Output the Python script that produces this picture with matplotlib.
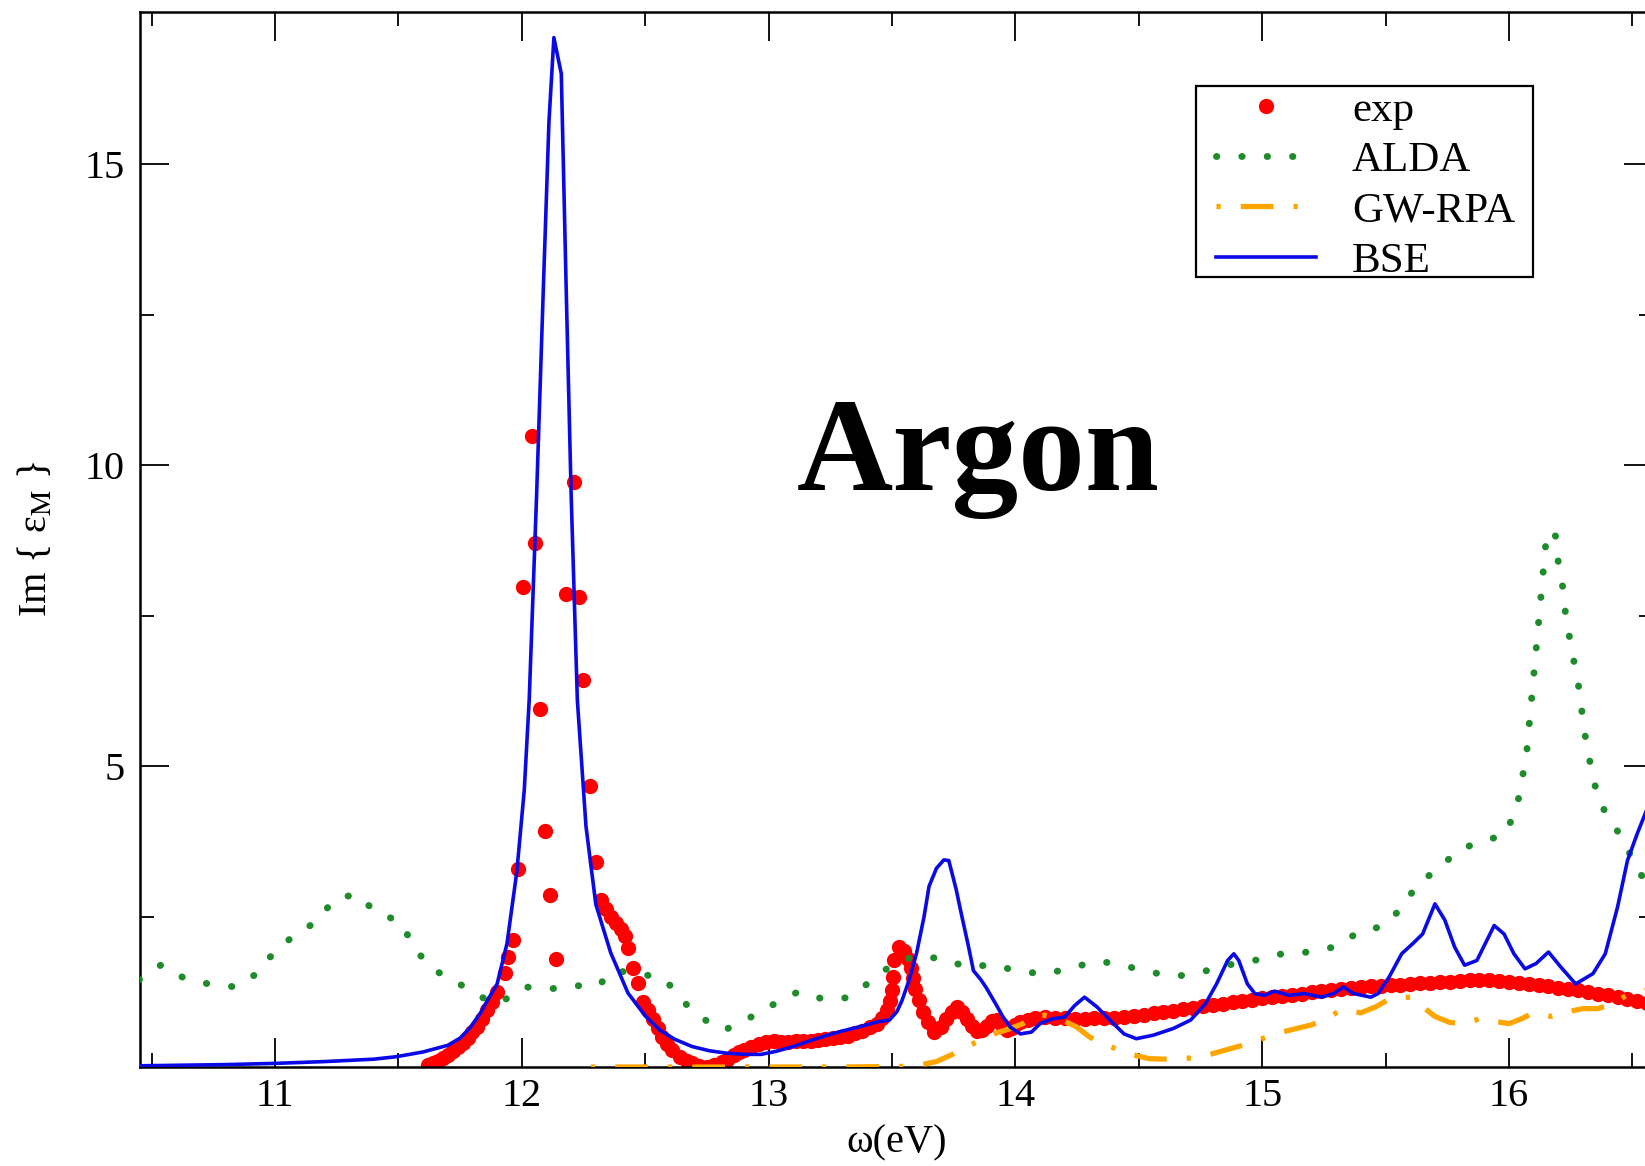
import matplotlib
matplotlib.use("Agg")
import matplotlib.pyplot as plt
from matplotlib.patches import Rectangle
from matplotlib.ticker import MultipleLocator, FixedLocator

plt.rcParams['font.family'] = ['Liberation Serif', 'DejaVu Serif']
plt.rcParams['mathtext.fontset'] = 'stix'

# ---------------- data ----------------
exp_x = [11.62, 11.64, 11.66, 11.68, 11.70, 11.72, 11.74, 11.76, 11.78, 11.80,
         11.82, 11.84, 11.86, 11.88, 11.90, 11.93, 11.945, 11.965, 11.985, 12.005,
         12.04, 12.055, 12.075, 12.095, 12.115, 12.14, 12.18, 12.21, 12.23, 12.25,
         12.275, 12.30, 12.32, 12.34, 12.36, 12.38, 12.40, 12.42, 12.43, 12.45,
         12.47, 12.49, 12.51, 12.53, 12.55, 12.57, 12.59, 12.61, 12.64, 12.67,
         12.69, 12.72, 12.75, 12.78, 12.81, 12.83, 12.86, 12.88, 12.90, 12.93,
         12.96, 12.99, 13.02, 13.05, 13.08, 13.11, 13.14, 13.17, 13.20, 13.23,
         13.26, 13.29, 13.32, 13.35, 13.38, 13.41, 13.44, 13.46, 13.48, 13.49,
         13.50, 13.505, 13.51, 13.53, 13.55, 13.565, 13.575, 13.585, 13.595, 13.61,
         13.625, 13.645, 13.67, 13.70, 13.72, 13.745, 13.765, 13.785, 13.805, 13.825,
         13.845, 13.865, 13.885, 13.905, 13.925, 13.945, 13.965, 13.985, 14.00, 14.02,
         14.05, 14.08, 14.12, 14.16, 14.20, 14.24, 14.28, 14.32, 14.36, 14.40,
         14.44, 14.48, 14.52, 14.56, 14.60, 14.64, 14.68, 14.72, 14.76, 14.80,
         14.84, 14.88, 14.92, 14.96, 15.00, 15.04, 15.08, 15.12, 15.16, 15.20,
         15.24, 15.28, 15.32, 15.36, 15.40, 15.44, 15.48, 15.52, 15.56, 15.60,
         15.64, 15.68, 15.72, 15.76, 15.80, 15.84, 15.88, 15.92, 15.96, 16.00,
         16.04, 16.08, 16.12, 16.16, 16.20, 16.24, 16.28, 16.32, 16.36, 16.40,
         16.44, 16.48, 16.52, 16.56]
exp_y = [0.03, 0.06, 0.10, 0.15, 0.20, 0.26, 0.33, 0.40, 0.49, 0.58,
         0.67, 0.80, 0.95, 1.08, 1.25, 1.56, 1.83, 2.11, 3.29, 7.97,
         10.48, 8.70, 5.95, 3.92, 2.86, 1.80, 7.86, 9.72, 7.81, 6.43,
         4.67, 3.41, 2.78, 2.62, 2.50, 2.40, 2.30, 2.18, 1.98, 1.64,
         1.40, 1.08, 0.95, 0.80, 0.64, 0.50, 0.38, 0.28, 0.17, 0.10,
         0.06, 0.02, 0.00, 0.03, 0.08, 0.12, 0.20, 0.25, 0.28, 0.33,
         0.38, 0.42, 0.43, 0.42, 0.42, 0.43, 0.44, 0.44, 0.45, 0.46,
         0.48, 0.50, 0.52, 0.56, 0.60, 0.66, 0.72, 0.82, 0.95, 1.10,
         1.28, 1.50, 1.78, 2.00, 1.92, 1.80, 1.65, 1.48, 1.30, 1.12,
         0.92, 0.74, 0.58, 0.66, 0.80, 0.92, 1.00, 0.92, 0.80, 0.68,
         0.60, 0.62, 0.68, 0.76, 0.78, 0.70, 0.62, 0.64, 0.70, 0.75,
         0.78, 0.82, 0.83, 0.82, 0.81, 0.80, 0.80, 0.81, 0.81, 0.82,
         0.83, 0.85, 0.87, 0.89, 0.91, 0.93, 0.96, 0.98, 1.01, 1.03,
         1.05, 1.08, 1.10, 1.12, 1.14, 1.16, 1.18, 1.20, 1.22, 1.24,
         1.26, 1.28, 1.29, 1.31, 1.33, 1.34, 1.35, 1.36, 1.37, 1.38,
         1.39, 1.40, 1.41, 1.42, 1.43, 1.44, 1.44, 1.44, 1.43, 1.42,
         1.40, 1.38, 1.36, 1.34, 1.32, 1.30, 1.28, 1.25, 1.22, 1.19,
         1.16, 1.13, 1.10, 1.07]

alda_x = [10.45, 10.54, 10.63, 10.73, 10.84, 10.93, 11.00, 11.08, 11.17, 11.24,
          11.33, 11.41, 11.51, 11.56, 11.63, 11.73, 11.82, 11.91, 12.01, 12.12,
          12.22, 12.31, 12.37, 12.47, 12.58, 12.65, 12.73, 12.82, 12.92, 13.02,
          13.12, 13.22, 13.32, 13.41, 13.50, 13.59, 13.71, 13.80, 13.91, 14.02,
          14.13, 14.235, 14.34, 14.445, 14.55, 14.66, 14.765, 14.87, 14.98, 15.08,
          15.19, 15.30, 15.39, 15.49, 15.57, 15.63, 15.715, 15.79, 15.88, 15.98,
          16.03, 16.05, 16.07, 16.08, 16.09, 16.10, 16.11, 16.12, 16.13, 16.14,
          16.15, 16.17, 16.19, 16.20, 16.22, 16.23, 16.25, 16.27, 16.29, 16.30,
          16.32, 16.34, 16.37, 16.43, 16.48, 16.53, 16.58]
alda_y = [1.45, 1.70, 1.48, 1.38, 1.33, 1.56, 1.93, 2.19, 2.42, 2.79,
          2.87, 2.57, 2.41, 2.01, 1.64, 1.43, 1.18, 1.06, 1.33, 1.30,
          1.35, 1.35, 1.60, 1.56, 1.46, 1.10, 0.81, 0.61, 0.81, 1.04,
          1.25, 1.13, 1.15, 1.41, 1.70, 1.84, 1.80, 1.66, 1.70, 1.58,
          1.55, 1.66, 1.76, 1.68, 1.57, 1.51, 1.59, 1.70, 1.78, 1.88,
          1.91, 2.00, 2.24, 2.34, 2.66, 3.05, 3.29, 3.59, 3.74, 3.85,
          4.27, 4.72, 5.15, 5.61, 6.05, 6.49, 6.94, 7.39, 7.84, 8.29,
          8.74, 8.92, 8.81, 8.37, 7.92, 7.48, 7.03, 6.58, 6.15, 5.70,
          5.25, 4.80, 4.37, 3.99, 3.62, 3.22, 2.95]

gw_x = [12.28, 12.60, 13.00, 13.30, 13.55, 13.62, 13.68, 13.74, 13.80, 13.86,
        13.92, 13.98, 14.03, 14.07, 14.12, 14.18, 14.25, 14.30, 14.36, 14.42,
        14.48, 14.54, 14.60, 14.66, 14.72, 14.78, 14.85, 14.92, 14.98, 15.06,
        15.12, 15.20, 15.26, 15.32, 15.40, 15.46, 15.52, 15.60, 15.65, 15.70,
        15.76, 15.82, 15.88, 15.94, 16.00, 16.05, 16.10, 16.17, 16.24, 16.30,
        16.36, 16.42, 16.48, 16.58]
gw_y = [0.00, 0.00, 0.00, 0.00, 0.01, 0.04, 0.09, 0.20, 0.33, 0.45,
        0.56, 0.64, 0.72, 0.84, 0.86, 0.80, 0.66, 0.50, 0.38, 0.28,
        0.20, 0.14, 0.13, 0.14, 0.15, 0.20, 0.28, 0.36, 0.44, 0.56,
        0.62, 0.70, 0.80, 0.95, 0.90, 1.00, 1.14, 1.16, 1.00, 0.84,
        0.74, 0.72, 0.80, 0.76, 0.72, 0.80, 0.90, 0.84, 0.92, 0.97,
        0.97, 1.05, 1.20, 1.30]

bse_x = [10.45, 10.80, 11.00, 11.20, 11.40, 11.49, 11.60, 11.70, 11.75, 11.79,
         11.83, 11.86, 11.90, 11.94, 11.98, 12.01, 12.03, 12.06, 12.087, 12.11,
         12.13, 12.16, 12.18, 12.20, 12.225, 12.26, 12.30, 12.36, 12.43, 12.50,
         12.56, 12.62, 12.69, 12.76, 12.83, 12.90, 12.97, 13.03, 13.10, 13.17,
         13.24, 13.30, 13.37, 13.44, 13.49, 13.52, 13.54, 13.57, 13.60, 13.63,
         13.65, 13.68, 13.71, 13.73, 13.76, 13.78, 13.81, 13.83, 13.86, 13.88,
         13.92, 13.95, 13.98, 14.02, 14.065, 14.10, 14.15, 14.20, 14.24, 14.28,
         14.33, 14.39, 14.44, 14.49, 14.56, 14.64, 14.71, 14.77, 14.815, 14.86,
         14.885, 14.905, 14.94, 14.97, 15.01, 15.05, 15.11, 15.17, 15.24, 15.29,
         15.33, 15.37, 15.44, 15.47, 15.515, 15.565, 15.61, 15.65, 15.70, 15.74,
         15.78, 15.82, 15.87, 15.94, 15.98, 16.02, 16.065, 16.11, 16.16, 16.21,
         16.27, 16.34, 16.39, 16.44, 16.48, 16.52, 16.58]
bse_y = [0.02, 0.04, 0.06, 0.09, 0.13, 0.17, 0.25, 0.36, 0.48, 0.65,
         0.88, 1.10, 1.38, 2.05, 3.25, 4.60, 6.10, 9.50, 12.90, 15.70,
         17.10, 16.50, 12.90, 9.50, 6.10, 4.00, 2.70, 1.90, 1.23, 0.85,
         0.61, 0.46, 0.34, 0.27, 0.23, 0.21, 0.21, 0.26, 0.34, 0.44,
         0.53, 0.60, 0.67, 0.75, 0.78, 0.92, 1.10, 1.45, 1.90, 2.50,
         3.00, 3.30, 3.44, 3.43, 2.95, 2.56, 2.00, 1.60, 1.45, 1.33,
         1.05, 0.83, 0.66, 0.55, 0.58, 0.72, 0.80, 0.83, 1.02, 1.16,
         1.00, 0.75, 0.55, 0.47, 0.53, 0.64, 0.78, 1.05, 1.38, 1.77,
         1.88, 1.77, 1.38, 1.22, 1.19, 1.26, 1.19, 1.22, 1.16, 1.22,
         1.33, 1.22, 1.16, 1.22, 1.50, 1.88, 2.05, 2.21, 2.71, 2.44,
         1.99, 1.69, 1.77, 2.35, 2.21, 1.88, 1.63, 1.72, 1.91, 1.66,
         1.38, 1.55, 1.88, 2.66, 3.43, 3.88, 4.50]

x_major = [11, 12, 13, 14, 15, 16]
y_major = [5, 10, 15]
legend_labels = ["exp", "ALDA", "GW-RPA", "BSE"]
title_text = "Argon"

# ---------------- figure ----------------
W, H = 1645, 1166
fig = plt.figure(figsize=(W / 100, H / 100), dpi=100)
left_px, right_px, top_px, bottom_px = 140, 1653, 11.5, 1067
ax = fig.add_axes([left_px / W, 1 - bottom_px / H,
                   (right_px - left_px) / W, (bottom_px - top_px) / H])

xpp = 246.8  # px per eV
ypp = 60.2   # px per unit
ax.set_xlim(10.453, 10.453 + (right_px - left_px) / xpp)
ax.set_ylim(0, (bottom_px - top_px) / ypp)

ax.plot(exp_x, exp_y, linestyle='none', marker='o', markersize=11,
        color='#ff0000', markeredgewidth=0, label=legend_labels[0], zorder=2)
ax.plot(alda_x, alda_y, color='#1e8c2a', linewidth=5.0,
        linestyle=(0, (0.05, 3.6)), dash_capstyle='round',
        label=legend_labels[1], zorder=3)
ax.plot(gw_x, gw_y, color='#ffa500', linewidth=3.8,
        linestyle=(0, (0.8, 3.8, 6.2, 3.8)), dash_capstyle='butt',
        label=legend_labels[2], zorder=3)
ax.plot(bse_x, bse_y, color='#0a0ae6', linewidth=2.6, label=legend_labels[3],
        zorder=4)

ax.text(13.85, 9.58, title_text, fontsize=96, fontweight='bold',
        ha='center', va='baseline', family=['Liberation Serif'])

ax.xaxis.set_major_locator(FixedLocator(x_major))
ax.xaxis.set_minor_locator(MultipleLocator(0.5))
ax.yaxis.set_major_locator(FixedLocator(y_major))
ax.yaxis.set_minor_locator(FixedLocator([2.5, 7.5, 12.5]))
ax.tick_params(which='both', direction='in', top=True, right=True, width=1.3,
               labelsize=29, colors='black')
ax.tick_params(which='major', length=21)
ax.tick_params(which='minor', length=10)
ax.tick_params(axis='x', which='major', pad=8)
ax.tick_params(axis='y', which='major', pad=11)
for s in ax.spines.values():
    s.set_linewidth(1.8)

ax.set_xlabel("ω(eV)", fontsize=29)
ax.set_ylabel("Im { ε$_\\mathrm{M}$ }", fontsize=29)
ax.xaxis.set_label_coords(0.5, -0.054)
ax.yaxis.set_label_coords(-0.056, 0.5)

# legend frame drawn as a separate rectangle, entries on top of it
frame = Rectangle((1196 / W, 1 - 277 / H), (1533 - 1196) / W, (277 - 86) / H,
                  transform=fig.transFigure, facecolor='white',
                  edgecolor='black', linewidth=1.6, zorder=5, clip_on=False)
ax.add_patch(frame)
leg = ax.legend(loc='upper left', bbox_to_anchor=((1196 + 10.5) / W, 1 - (86 - 5) / H),
                bbox_transform=fig.transFigure, fontsize=31, frameon=False,
                numpoints=1, handlelength=2.33, handletextpad=0.83,
                labelspacing=0.26, borderpad=0.22, borderaxespad=0)
leg.set_zorder(6)

fig.savefig("out.png", dpi=100)
